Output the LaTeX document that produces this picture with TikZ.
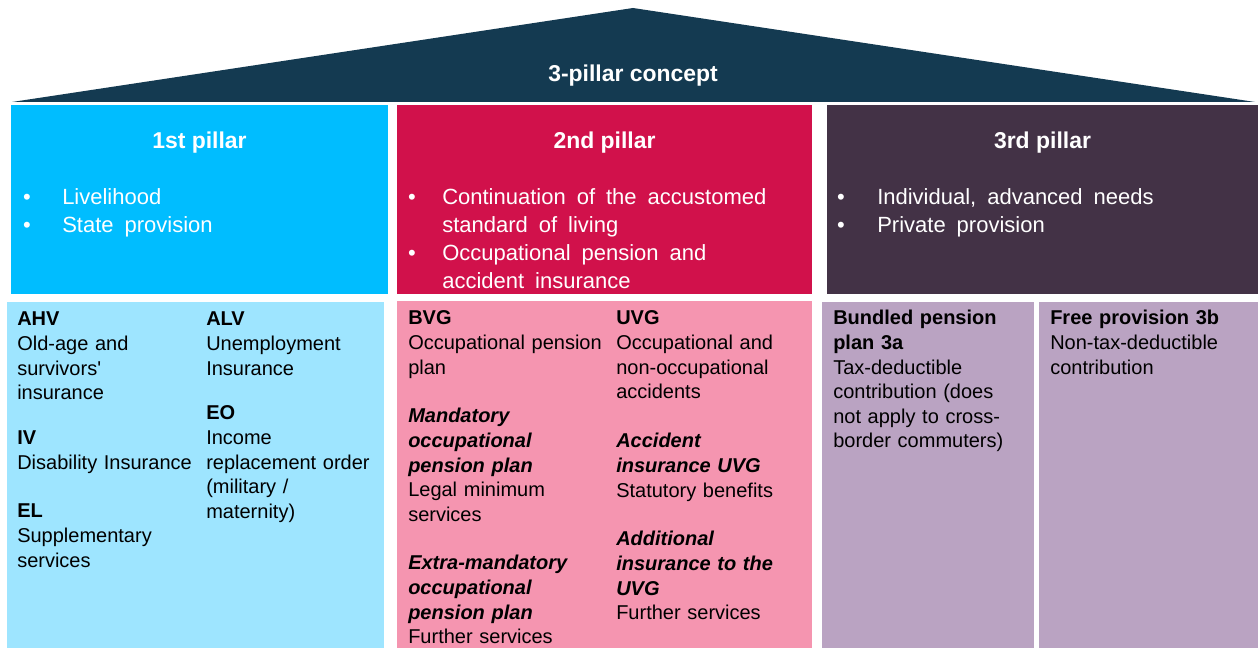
\documentclass[tikz,border=0pt]{standalone}
\usepackage{fontspec}
\setmainfont{Liberation Sans}
\newfontfamily\rawfont{Liberation Sans}
\newcommand\widespacing{\spaceskip=0.5em plus 0.1em minus 0.05em\relax}
\definecolor{roofc}{HTML}{143A51}
\definecolor{pillaronec}{HTML}{00BDFF}
\definecolor{pillartwoc}{HTML}{D1114B}
\definecolor{pillarthreec}{HTML}{433246}
\definecolor{baseonec}{HTML}{9EE5FF}
\definecolor{basetwoc}{HTML}{F595B0}
\definecolor{basethreec}{HTML}{BAA3C2}
\tikzset{
  headtitle/.style={text=white, font=\fontsize{17.2}{20}\selectfont\bfseries, inner sep=0pt, anchor=base},
  headbullet/.style={text=white, font=\fontsize{16.5}{20.8}\selectfont, execute at begin node=\widespacing, inner sep=0pt, anchor=base west, align=left, text width=260pt},
  dot/.style={text=white, font=\fontsize{16.5}{20.8}\selectfont, inner sep=0pt, anchor=base},
  entry/.style={text=black, font=\fontsize{15}{18.4}\selectfont, inner sep=0pt, anchor=base west, align=left, text width=170pt},
}
\begin{document}
\begin{tikzpicture}[x=0.75pt,y=-0.75pt]
\useasboundingbox (0,0) rectangle (1258,648);
\fill[white] (0,0) rectangle (1258,648);

% roof
\fill[roofc] (12,102) -- (633,8) -- (1255,102) -- cycle;
\node[headtitle] (roof) at (633,82) {3-pillar concept};

% pillar headers
\fill[pillaronec] (11,105) rectangle (388,294);
\fill[pillartwoc] (397,105) rectangle (812,294);
\fill[pillarthreec] (827,105) rectangle (1258,294);

% pillar bases
\fill[baseonec] (7,302) rectangle (384,648);
\fill[basetwoc] (397,301) rectangle (812,648);
\fill[basethreec] (822,302) rectangle (1034,648);
\fill[basethreec] (1039,302) rectangle (1258,648);

% 1st pillar header
\node[headtitle] (h1) at (199.5,149) {1st pillar};
\node[dot] (h1b1) at (27,205) {•};
\node[dot] (h1b2) at (27,233) {•};
\node[headbullet] (h1t) at (62,205) {Livelihood\\State provision};

% 2nd pillar header
\node[headtitle] (h2) at (604.5,149) {2nd pillar};
\node[dot] (h2b1) at (412,205) {•};
\node[dot] (h2b2) at (412,261) {•};
\node[headbullet] (h2t) at (442,205) {Continuation of the accustomed\\standard of living\\Occupational pension and\\accident insurance};

% 3rd pillar header
\node[headtitle] (h3) at (1042.5,149) {3rd pillar};
\node[dot] (h3b1) at (841,205) {•};
\node[dot] (h3b2) at (841,233) {•};
\node[headbullet] (h3t) at (877,205) {Individual, advanced needs\\Private provision};

% 1st pillar base
\node[entry] (ahv) at (17,326) {\textbf{AHV}\\Old-age and\\survivors{\rawfont'}\\insurance};
\node[entry] (iv) at (17,445) {\textbf{IV}\\Disability Insurance};
\node[entry] (el) at (17,518) {\textbf{EL}\\Supplementary\\services};
\node[entry] (alv) at (206,326) {\textbf{ALV}\\Unemployment\\Insurance};
\node[entry] (eo) at (206,420) {\textbf{EO}\\Income\\replacement order\\(military /\\maternity)};

% 2nd pillar base
\node[entry] (bvg) at (408,325) {\textbf{BVG}\\Occupational pension\\plan};
\node[entry] (mand) at (408,423) {\textbf{\itshape Mandatory}\\\textbf{\itshape occupational}\\\textbf{\itshape pension plan}\\Legal minimum\\services};
\node[entry] (extra) at (408,570) {\textbf{\itshape Extra-mandatory}\\\textbf{\itshape occupational}\\\textbf{\itshape pension plan}\\Further services};
\node[entry] (uvg) at (616,325) {\textbf{UVG}\\Occupational and\\non-occupational\\accidents};
\node[entry] (acc) at (616,448) {\textbf{\itshape Accident}\\\textbf{\itshape insurance UVG}\\Statutory benefits};
\node[entry] (addl) at (616,546) {\textbf{\itshape Additional}\\\textbf{\itshape insurance to the}\\\textbf{\itshape UVG}\\Further services};

% 3rd pillar base
\node[entry] (tha) at (833,325) {\textbf{Bundled pension}\\\textbf{plan 3a}\\Tax-deductible\\contribution (does\\not apply to cross-\\border commuters)};
\node[entry] (thb) at (1050,325) {\textbf{Free provision 3b}\\Non-tax-deductible\\contribution};
\end{tikzpicture}
\end{document}
